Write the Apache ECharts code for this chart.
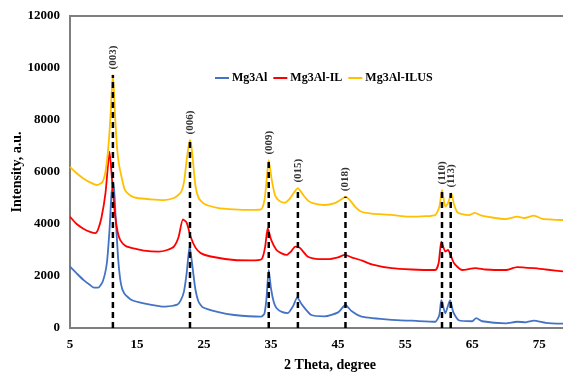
<!DOCTYPE html>
<html>
<head>
<meta charset="utf-8">
<script src="https://cdn.jsdelivr.net/npm/echarts@6/dist/echarts.min.js"></script>
<style>
  html, body { margin: 0; padding: 0; background: #fff; }
  #chart { width: 563px; height: 372px; }
</style>
</head>
<body>
<div id="chart"></div>
<script>
// XRD patterns (2 theta, intensity)
const mgX = [5, 6, 7, 8, 8.6, 9.2, 9.9, 10.5, 10.9, 11.2, 11.5, 11.8, 12.2, 12.6, 13.1, 14.2, 16, 19.2, 21.0, 21.5, 22.0, 22.4, 22.85, 23.3, 23.7, 24.2, 24.8, 27, 29.5, 33.5, 34.0, 34.3, 34.65, 35.0, 35.4, 35.8, 36.6, 37.5, 38.3, 38.9, 39.6, 41, 43, 45, 46.1, 47, 48.5, 53, 56, 59.5, 60.1, 60.4, 61.0, 61.7, 62.2, 63, 65.0, 65.6, 66.5, 70, 71.7, 73, 74.2, 76, 79]
const mgY = [2360, 2100, 1850, 1650, 1550, 1550, 1800, 2500, 3800, 5200, 5600, 4300, 2615, 1700, 1330, 1075, 950, 820, 900, 1050, 1400, 2100, 3150, 2300, 1500, 1000, 800, 620, 500, 435, 550, 1100, 2230, 1500, 1000, 770, 620, 575, 850, 1180, 900, 500, 450, 600, 885, 650, 435, 310, 280, 240, 500, 1075, 565, 1075, 600, 300, 260, 380, 260, 180, 240, 220, 280, 200, 160]

const ilX = [5, 6, 7, 8, 8.8, 9.2, 9.7, 10.3, 10.9, 11.3, 11.7, 12.1, 12.5, 13.3, 14.3, 16, 18.2, 19.5, 20.5, 21.2, 21.85, 22.4, 23.0, 23.7, 24.5, 26, 29.5, 32, 33.6, 34.1, 34.5, 35.0, 35.8, 36.5, 37.3, 38.0, 38.6, 39.3, 40.5, 42, 43.5, 45, 46, 47, 48.5, 50, 53, 56, 59.5, 60.0, 60.4, 61.0, 61.4, 61.8, 62.3, 63.5, 65.5, 67, 70, 71.7, 74.2, 76, 79]
const ilY = [4280, 4000, 3820, 3700, 3650, 3800, 4250, 5200, 6780, 5600, 4400, 3700, 3380, 3150, 3070, 2980, 2940, 3000, 3130, 3500, 4180, 4050, 3510, 3100, 2880, 2750, 2615, 2600, 2650, 3100, 3840, 3400, 3000, 2880, 2810, 2950, 3130, 3080, 2740, 2650, 2650, 2720, 2810, 2720, 2600, 2450, 2300, 2250, 2230, 2500, 3320, 2940, 3000, 2800, 2490, 2230, 2300, 2250, 2230, 2345, 2300, 2250, 2165]

const ilusX = [5, 6, 7, 8, 9, 9.8, 10.2, 10.5, 10.8, 11.1, 11.25, 11.4, 11.55, 11.7, 12.0, 12.3, 12.7, 13.2, 14, 15, 17, 19, 20.5, 21.5, 22.0, 22.4, 22.7, 22.9, 23.1, 23.3, 23.7, 24.2, 25, 27, 29.5, 32, 33.5, 34.0, 34.3, 34.65, 35.1, 35.6, 36.2, 37.0, 37.7, 38.4, 39.0, 39.7, 40.5, 41.5, 43, 44.5, 45.5, 46.1, 46.8, 47.6, 48.5, 50, 53, 55.5, 58, 59.5, 60.1, 60.5, 61.0, 61.4, 61.9, 62.3, 62.8, 63.5, 64.5, 65.4, 66.3, 68, 70, 71.7, 72.8, 74.2, 75.5, 77, 79]
const ilusY = [6200, 5950, 5750, 5600, 5500, 5600, 5900, 6400, 7200, 8400, 9200, 9730, 9150, 8300, 7000, 6300, 5800, 5300, 5100, 5000, 4950, 4920, 5000, 5200, 5600, 6450, 7000, 7230, 7000, 6550, 5500, 5000, 4780, 4620, 4560, 4540, 4560, 4900, 5600, 6460, 5700, 5100, 4900, 4820, 4950, 5200, 5380, 5150, 4900, 4780, 4730, 4800, 4950, 5050, 4900, 4650, 4470, 4400, 4350, 4280, 4300, 4350, 4650, 5310, 4670, 4800, 5190, 4750, 4450, 4380, 4340, 4430, 4330, 4250, 4190, 4280, 4230, 4320, 4200, 4170, 4150]

// reflections marked with dashed lines
const peakNames = ['(003)', '(006)', '(009)', '(015)', '(018)', '(110)', '(113)']
const peakPos = [11.4, 22.9, 34.65, 39.0, 46.1, 60.5, 61.8]
const peakTop = [9730, 7230, 6460, 5380, 5050, 5310, 5190]

const xTicks = { min: 5, max: 79, interval: 10 }
const yTicks = { min: 0, max: 12000, interval: 2000 }

const serif = '"Liberation Serif", "Times New Roman", serif'
const zip = (xs, ys) => xs.map((x, i) => [x, ys[i]])

const chart = echarts.init(document.getElementById('chart'))

const patternSeries = [
  { name: 'Mg3Al', x: mgX, y: mgY, color: '#4472C4' },
  { name: 'Mg3Al-IL', x: ilX, y: ilY, color: '#FF0000' },
  { name: 'Mg3Al-ILUS', x: ilusX, y: ilusY, color: '#FFC000' }
].map(s => ({
  name: s.name,
  type: 'line',
  data: zip(s.x, s.y),
  showSymbol: false,
  smooth: 0.2,
  lineStyle: { color: s.color, width: 1.8 },
  itemStyle: { color: s.color },
  z: 2
}))

const peakSeries = peakNames.map((n, i) => ({
  name: n,
  type: 'line',
  data: [[peakPos[i], 0], [peakPos[i], peakTop[i]]],
  showSymbol: false,
  symbol: 'none',
  lineStyle: { color: '#000', width: 2.5, type: [6, 4] },
  silent: true,
  z: 3
}))

// hkl labels sit on top of each dashed line
const labelSeries = {
  name: 'hkl',
  type: 'scatter',
  data: peakNames.map((n, i) => ({ name: n, value: [peakPos[i], peakTop[i]] })),
  symbolSize: 1,
  itemStyle: { color: 'rgba(0,0,0,0)' },
  silent: true,
  z: 4,
  label: {
    show: true,
    formatter: p => p.name,
    position: 'top',
    distance: 5,
    rotate: 90,
    align: 'left',
    verticalAlign: 'middle',
    fontFamily: serif,
    fontWeight: 'bold',
    fontSize: 11,
    color: '#000'
  }
}

chart.setOption({
  animation: false,
  textStyle: { fontFamily: serif },
  legend: {
    data: ['Mg3Al', 'Mg3Al-IL', 'Mg3Al-ILUS'],
    left: 210,
    top: 67,
    icon: 'rect',
    itemWidth: 14,
    itemHeight: 2,
    itemGap: 6,
    textStyle: { fontFamily: serif, fontWeight: 'bold', fontSize: 12, color: '#000', padding: [0, 0, 0, -2] }
  },
  grid: {
    left: 70,
    right: -3,
    top: 16,
    bottom: 44,
    outerBoundsMode: 'none',
    containLabel: false,
    show: true,
    borderColor: '#7f7f7f',
    borderWidth: 2
  },
  xAxis: {
    type: 'value',
    min: xTicks.min,
    max: xTicks.max,
    interval: xTicks.interval,
    name: '2 Theta, degree',
    nameLocation: 'middle',
    nameGap: 30,
    nameMoveOverlap: false,
    nameTextStyle: { fontFamily: serif, fontWeight: 'bold', fontSize: 14, color: '#000', padding: [0, 0, 0, 24] },
    axisLine: { show: true, lineStyle: { color: '#7f7f7f', width: 2 } },
    axisTick: { show: false },
    splitLine: { show: false },
    axisLabel: {
      showMaxLabel: false,
      margin: 10,
      fontFamily: serif,
      fontWeight: 'bold',
      fontSize: 13,
      color: '#000'
    }
  },
  yAxis: {
    type: 'value',
    min: yTicks.min,
    max: yTicks.max,
    interval: yTicks.interval,
    name: 'Intensity, a.u.',
    nameLocation: 'middle',
    nameGap: 46,
    nameMoveOverlap: false,
    nameTextStyle: { fontFamily: serif, fontWeight: 'bold', fontSize: 14, color: '#000' },
    axisLine: { show: true, lineStyle: { color: '#7f7f7f', width: 2 } },
    axisTick: { show: false },
    splitLine: { show: false },
    axisLabel: {
      margin: 10,
      formatter: v => String(v),
      fontFamily: serif,
      fontWeight: 'bold',
      fontSize: 13,
      color: '#000'
    }
  },
  series: patternSeries.concat(peakSeries, [labelSeries])
})
</script>
</body>
</html>
